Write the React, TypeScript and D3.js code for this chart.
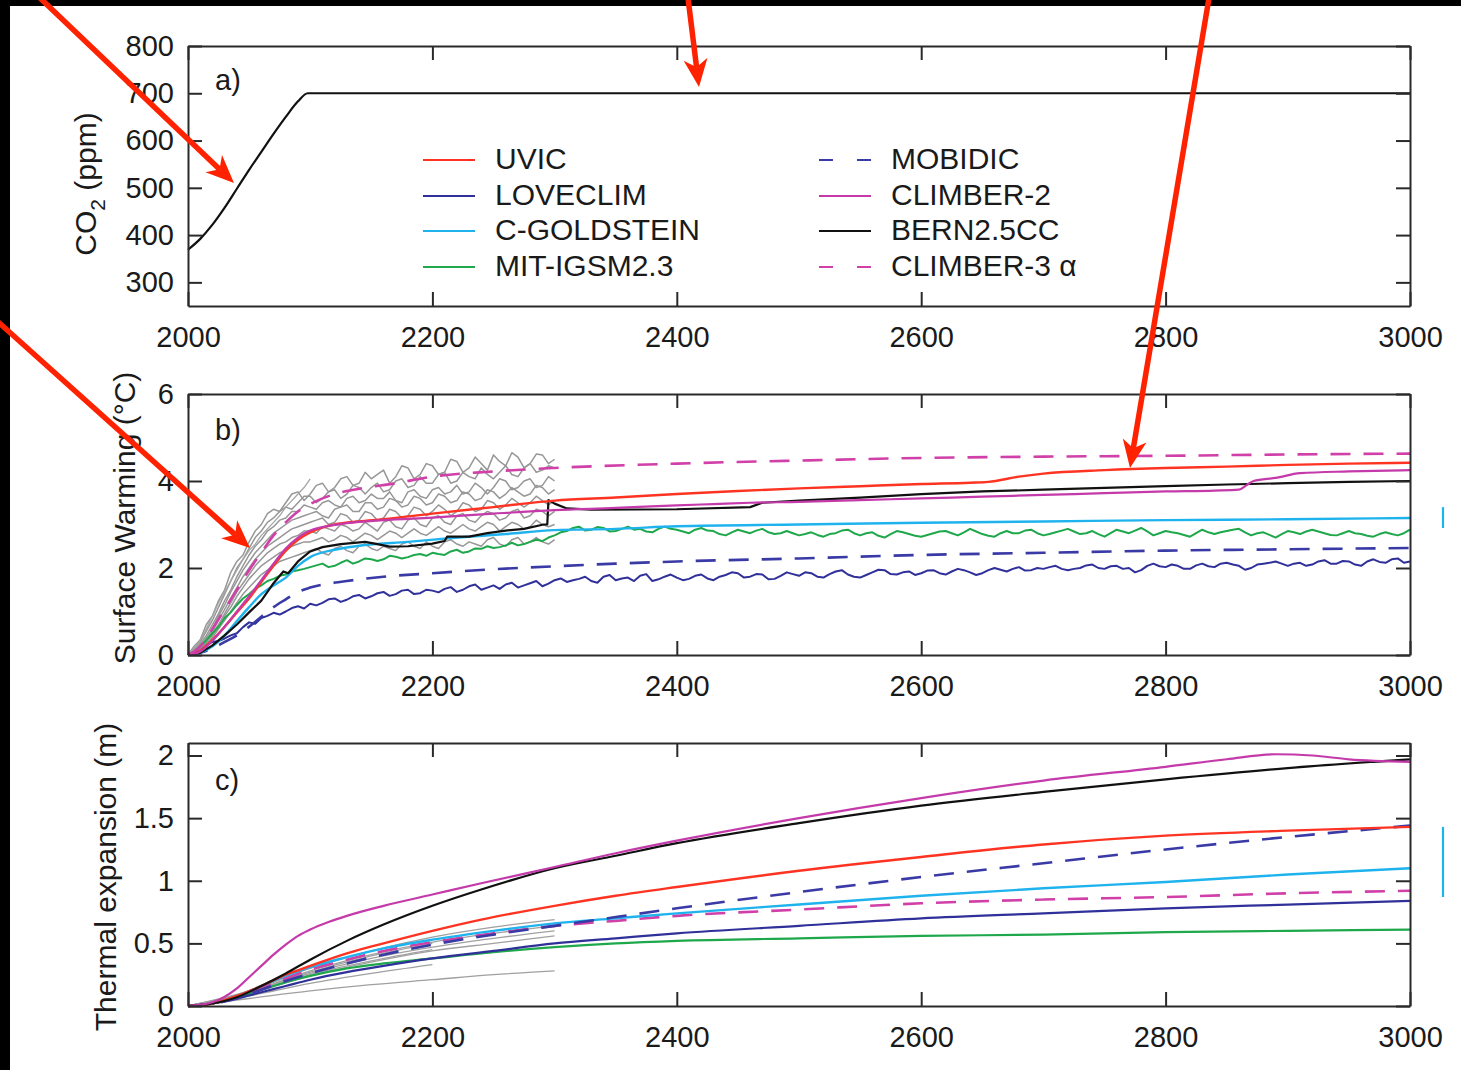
import React, { useEffect, useRef } from "react";
import * as d3 from "d3";

const FONT = "'Liberation Sans', Arial, Helvetica, sans-serif";

// ---------- panel a : CO2 (ppm)
const co2 = [[2000, 369], [2010, 392], [2020, 422], [2030, 458], [2040, 498], [2050, 538], [2060, 576], [2070, 614], [2080, 650], [2090, 683], [2098, 700], [3000, 700]];

// ---------- panel b : surface warming (degC)
const every5 = d3.range(2000, 3001, 5);
const every5to2300 = d3.range(2000, 2301, 5);
const every5to2100 = d3.range(2000, 2101, 5);

const uvicB = [[2000, 0], [2010, 0.1], [2020, 0.35], [2030, 0.65], [2040, 0.98], [2050, 1.3], [2060, 1.68], [2070, 2.05], [2080, 2.4], [2090, 2.65], [2100, 2.82], [2110, 2.93], [2120, 3.0], [2140, 3.07], [2160, 3.12], [2200, 3.25], [2250, 3.4], [2300, 3.55], [2350, 3.62], [2400, 3.7], [2450, 3.77], [2500, 3.83], [2550, 3.88], [2600, 3.93], [2640, 3.96], [2655, 3.98], [2680, 4.1], [2700, 4.17], [2750, 4.25], [2800, 4.3], [2850, 4.33], [2900, 4.37], [2950, 4.4], [3000, 4.42]];
const climber2B = [[2000, 0], [2010, 0.08], [2020, 0.33], [2030, 0.65], [2040, 1.0], [2050, 1.35], [2060, 1.72], [2070, 2.1], [2080, 2.45], [2090, 2.7], [2100, 2.86], [2110, 2.94], [2130, 3.03], [2160, 3.1], [2200, 3.16], [2250, 3.25], [2300, 3.33], [2350, 3.38], [2400, 3.44], [2430, 3.47], [2460, 3.5], [2500, 3.52], [2550, 3.56], [2600, 3.6], [2650, 3.64], [2700, 3.68], [2750, 3.72], [2800, 3.76], [2840, 3.78], [2860, 3.8], [2866, 3.9], [2872, 4.0], [2890, 4.07], [2910, 4.18], [2950, 4.22], [3000, 4.25]];
const bernB = [[2000, 0], [2010, 0.05], [2020, 0.22], [2030, 0.45], [2040, 0.7], [2050, 0.98], [2060, 1.25], [2070, 1.65], [2078, 1.92], [2082, 1.88], [2090, 2.15], [2100, 2.38], [2110, 2.48], [2125, 2.55], [2145, 2.6], [2155, 2.55], [2165, 2.49], [2180, 2.5], [2200, 2.56], [2210, 2.62], [2212, 2.72], [2230, 2.72], [2245, 2.8], [2260, 2.86], [2275, 2.9], [2291, 3.0], [2294, 3.0], [2295, 3.56], [2300, 3.48], [2310, 3.37], [2330, 3.34], [2400, 3.35], [2460, 3.4], [2470, 3.5], [2500, 3.55], [2550, 3.62], [2600, 3.7], [2650, 3.76], [2700, 3.8], [2750, 3.84], [2800, 3.88], [2850, 3.92], [2900, 3.95], [2950, 3.98], [3000, 4.0]];
const cgoldB = [[2000, 0], [2010, 0.05], [2020, 0.2], [2030, 0.45], [2040, 0.78], [2050, 1.1], [2060, 1.4], [2070, 1.6], [2080, 1.78], [2090, 2.05], [2100, 2.25], [2120, 2.42], [2145, 2.53], [2180, 2.6], [2216, 2.69], [2260, 2.78], [2300, 2.87], [2350, 2.9], [2400, 2.96], [2500, 3.0], [2600, 3.04], [2700, 3.07], [2800, 3.1], [2900, 3.12], [3000, 3.15]];
const mobidicB = [[2000, 0], [2010, 0.05], [2020, 0.15], [2030, 0.3], [2040, 0.45], [2050, 0.65], [2060, 0.88], [2070, 1.1], [2080, 1.28], [2090, 1.45], [2100, 1.55], [2130, 1.7], [2160, 1.8], [2200, 1.88], [2250, 1.97], [2300, 2.04], [2350, 2.1], [2400, 2.15], [2500, 2.22], [2600, 2.3], [2700, 2.35], [2800, 2.4], [2900, 2.43], [3000, 2.46]];
const climber3B = [[2000, 0], [2010, 0.2], [2020, 0.6], [2030, 1.05], [2040, 1.5], [2050, 1.95], [2060, 2.35], [2070, 2.75], [2080, 3.05], [2090, 3.3], [2100, 3.47], [2120, 3.7], [2140, 3.82], [2170, 3.95], [2200, 4.1], [2250, 4.22], [2300, 4.3], [2400, 4.4], [2500, 4.47], [2600, 4.53], [2700, 4.56], [2800, 4.58], [2900, 4.61], [3000, 4.63]];

// noisy runs, one value every 5 years
const loveclimB = [0, 0.04, 0.1, 0.22, 0.3, 0.32, 0.38, 0.45, 0.5, 0.64, 0.75, 0.72, 0.85, 0.9, 0.97, 0.93, 1.0, 1.08, 1.12, 1.07, 1.18,
  1.14, 1.2, 1.28, 1.3, 1.22, 1.27, 1.35, 1.38, 1.3, 1.35, 1.42, 1.45, 1.36, 1.4, 1.48, 1.5, 1.4, 1.42, 1.5, 1.48,
  1.44, 1.52, 1.56, 1.45, 1.5, 1.58, 1.62, 1.5, 1.55, 1.6, 1.52, 1.62, 1.66, 1.55, 1.6, 1.65, 1.7, 1.58, 1.64, 1.72,
  1.76, 1.68, 1.72, 1.75, 1.8, 1.7, 1.66, 1.8, 1.84, 1.72, 1.76, 1.78, 1.7, 1.82, 1.86, 1.7, 1.74, 1.8, 1.85, 1.78,
  1.72, 1.75, 1.82, 1.85, 1.76, 1.72, 1.8, 1.84, 1.9, 1.88, 1.78, 1.8, 1.86, 1.85, 1.74, 1.75, 1.82, 1.9, 1.86, 1.82,
  1.9, 1.88, 1.8, 1.78, 1.86, 1.92, 1.95, 1.85, 1.8, 1.78, 1.84, 1.9, 1.96, 1.95, 1.86, 1.85, 1.9, 1.92, 1.84, 1.88,
  1.94, 1.95, 1.88, 1.85, 1.92, 1.98, 1.95, 1.9, 1.84, 1.88, 1.95, 2.0, 1.96, 1.92, 1.98, 2.02, 1.94, 1.95, 2.0, 1.98,
  2.02, 2.05, 1.98, 1.95, 1.98, 2.0, 2.06, 2.08, 2.0, 1.98, 2.04, 2.05, 1.98, 2.0, 1.9, 1.95, 2.05, 2.1, 2.04, 2.02,
  2.08, 2.05, 1.98, 1.98, 2.06, 2.1, 2.04, 2.02, 2.1, 2.12, 2.08, 2.05, 1.96, 2.0, 2.08, 2.1, 2.12, 2.15, 2.1, 2.05,
  2.1, 2.12, 2.05, 2.08, 2.15, 2.18, 2.1, 2.1, 2.16, 2.15, 2.08, 2.05, 2.15, 2.2, 2.14, 2.12, 2.2, 2.22, 2.12, 2.15];
const mitB = [0, 0.08, 0.2, 0.34, 0.5, 0.65, 0.85, 0.98, 1.15, 1.3, 1.4, 1.52, 1.6, 1.7, 1.75, 1.82, 1.85, 1.92, 1.95, 1.98, 2.02,
  2.06, 2.1, 2.02, 2.05, 2.12, 2.18, 2.1, 2.15, 2.22, 2.2, 2.16, 2.2, 2.28, 2.26, 2.22, 2.25, 2.3, 2.32, 2.28, 2.35,
  2.32, 2.3, 2.38, 2.42, 2.35, 2.38, 2.45, 2.44, 2.5, 2.46, 2.48, 2.52, 2.58, 2.52, 2.55, 2.6, 2.65, 2.62, 2.7, 2.75,
  2.82, 2.85, 2.92, 2.95, 2.86, 2.88, 2.94, 2.92, 2.84, 2.85, 2.9, 2.95, 2.88, 2.9, 2.84, 2.82, 2.9, 2.95, 2.9, 2.88,
  2.84, 2.8, 2.88, 2.92, 2.86, 2.85, 2.78, 2.75, 2.82, 2.88, 2.84, 2.8, 2.86, 2.9, 2.82, 2.78, 2.8, 2.85, 2.8, 2.75,
  2.78, 2.82, 2.76, 2.72, 2.78, 2.8, 2.86, 2.88, 2.8, 2.75, 2.8, 2.82, 2.74, 2.7, 2.78, 2.85, 2.82, 2.78, 2.74, 2.72,
  2.76, 2.8, 2.84, 2.85, 2.8, 2.75, 2.82, 2.9, 2.84, 2.78, 2.74, 2.72, 2.8, 2.85, 2.8, 2.8, 2.86, 2.88, 2.8, 2.75,
  2.78, 2.82, 2.86, 2.9, 2.84, 2.78, 2.8, 2.85, 2.78, 2.72, 2.8, 2.88, 2.84, 2.8, 2.86, 2.92, 2.84, 2.75, 2.8, 2.85,
  2.82, 2.8, 2.76, 2.72, 2.8, 2.88, 2.82, 2.78, 2.82, 2.85, 2.88, 2.9, 2.82, 2.75, 2.8, 2.82, 2.76, 2.7, 2.78, 2.85,
  2.82, 2.78, 2.84, 2.88, 2.84, 2.8, 2.76, 2.75, 2.8, 2.85, 2.8, 2.78, 2.74, 2.72, 2.78, 2.82, 2.78, 2.75, 2.8, 2.88];

// grey ensemble (2000-2300), one value every 5 years
const greyB = [
  [0, 0.2, 0.35, 0.7, 0.9, 1.25, 1.5, 1.9, 2.15, 2.3, 2.6, 2.85, 3.0, 3.25, 3.35, 3.3, 3.5, 3.7, 3.75, 3.55, 3.7, 3.9, 3.95, 3.75, 3.85, 4.05, 4.1, 3.9, 3.95, 4.2, 4.05, 4.15, 4.25, 3.95, 4.1, 4.35, 4.3, 4.05, 4.15, 4.4, 4.35, 4.15, 4.2, 4.5, 4.45, 4.2, 4.3, 4.55, 4.4, 4.25, 4.6, 4.45, 4.35, 4.65, 4.55, 4.3, 4.4, 4.62, 4.6, 4.4, 4.5],
  [0, 0.15, 0.3, 0.55, 0.8, 1.1, 1.4, 1.7, 2.0, 2.2, 2.45, 2.7, 2.85, 3.05, 3.15, 3.3, 3.4, 3.35, 3.5, 3.65, 3.65, 3.5, 3.6, 3.75, 3.8, 3.6, 3.7, 3.9, 3.85, 3.7, 3.85, 3.95, 3.75, 3.8, 4.0, 4.05, 3.85, 3.9, 4.1, 3.95, 3.95, 4.15, 4.2, 3.95, 4.0, 4.2, 4.1, 4.05, 4.3, 4.15, 4.05, 4.2, 4.35, 4.15, 4.1, 4.3, 4.4, 4.2, 4.25, 4.35, 4.3],
  [0, 0.1, 0.25, 0.45, 0.7, 0.95, 1.25, 1.5, 1.8, 2.05, 2.3, 2.5, 2.65, 2.85, 2.95, 3.1, 3.15, 3.3, 3.3, 3.45, 3.4, 3.35, 3.5, 3.55, 3.45, 3.4, 3.6, 3.65, 3.5, 3.55, 3.7, 3.6, 3.6, 3.75, 3.55, 3.5, 3.75, 3.8, 3.65, 3.6, 3.8, 3.85, 3.7, 3.75, 3.9, 3.7, 3.75, 3.95, 3.85, 3.7, 3.85, 4.05, 4.0, 3.8, 3.85, 4.0, 4.05, 3.85, 3.9, 4.1, 4.0],
  [0, 0.1, 0.2, 0.4, 0.6, 0.9, 1.15, 1.45, 1.7, 1.95, 2.15, 2.35, 2.5, 2.65, 2.8, 2.9, 3.0, 3.1, 3.15, 3.2, 3.25, 3.3, 3.2, 3.15, 3.35, 3.4, 3.45, 3.3, 3.3, 3.5, 3.5, 3.35, 3.4, 3.6, 3.55, 3.4, 3.45, 3.65, 3.6, 3.45, 3.5, 3.7, 3.65, 3.5, 3.55, 3.75, 3.7, 3.55, 3.6, 3.8, 3.75, 3.6, 3.7, 3.85, 3.75, 3.65, 3.7, 3.9, 3.85, 3.7, 3.8],
  [0, 0.1, 0.2, 0.35, 0.55, 0.8, 1.05, 1.3, 1.55, 1.8, 2.0, 2.2, 2.35, 2.5, 2.6, 2.7, 2.8, 2.9, 2.95, 3.0, 3.05, 3.1, 3.15, 3.0, 3.05, 3.25, 3.2, 3.05, 3.1, 3.3, 3.25, 3.1, 3.15, 3.35, 3.3, 3.15, 3.2, 3.4, 3.35, 3.2, 3.3, 3.45, 3.35, 3.2, 3.3, 3.5, 3.45, 3.3, 3.35, 3.55, 3.5, 3.35, 3.45, 3.6, 3.5, 3.4, 3.5, 3.65, 3.55, 3.45, 3.55],
  [0, 0.05, 0.15, 0.3, 0.5, 0.7, 0.95, 1.2, 1.45, 1.65, 1.85, 2.05, 2.2, 2.35, 2.45, 2.55, 2.6, 2.7, 2.75, 2.85, 2.85, 2.8, 2.95, 2.9, 2.85, 3.0, 2.95, 2.85, 2.9, 3.05, 2.95, 2.85, 3.05, 3.1, 2.95, 2.9, 3.1, 3.15, 3.0, 2.95, 3.15, 3.2, 3.05, 3.0, 3.2, 3.25, 3.1, 3.05, 3.2, 3.3, 3.25, 3.1, 3.15, 3.3, 3.35, 3.15, 3.2, 3.35, 3.3, 3.2, 3.3],
  [0, 0.05, 0.15, 0.3, 0.45, 0.65, 0.9, 1.1, 1.35, 1.55, 1.75, 1.9, 2.05, 2.15, 2.25, 2.35, 2.4, 2.5, 2.55, 2.6, 2.6, 2.65, 2.7, 2.6, 2.65, 2.75, 2.7, 2.6, 2.7, 2.8, 2.75, 2.65, 2.75, 2.85, 2.8, 2.7, 2.8, 2.9, 2.8, 2.75, 2.85, 2.95, 2.85, 2.8, 2.9, 3.0, 2.9, 2.85, 2.95, 3.05, 3.0, 2.85, 2.95, 3.05, 3.0, 2.9, 2.95, 3.1, 3.0, 2.95, 3.0],
  [0, 0.05, 0.1, 0.25, 0.4, 0.6, 0.8, 1.0, 1.2, 1.4, 1.55, 1.7, 1.85, 1.95, 2.05, 2.15, 2.2, 2.25, 2.3, 2.35, 2.4, 2.45, 2.35, 2.3, 2.45, 2.5, 2.4, 2.35, 2.5, 2.55, 2.45, 2.4, 2.5, 2.45, 2.4, 2.55, 2.6, 2.5, 2.45, 2.6, 2.5, 2.45, 2.6, 2.65, 2.55, 2.5, 2.6, 2.55, 2.5, 2.65, 2.7, 2.55, 2.5, 2.65, 2.7, 2.55, 2.6, 2.7, 2.6, 2.55, 2.65],
];
const greyShortB = [0, 0.15, 0.35, 0.6, 0.9, 1.2, 1.45, 1.7, 1.95, 2.2, 2.4, 2.55, 2.75, 2.9, 3.05, 3.2, 3.4, 3.55, 3.7, 3.85, 4.05];

// ---------- panel c : thermal expansion (m)
const climber2C = [[2000, 0], [2020, 0.03], [2040, 0.14], [2050, 0.23], [2060, 0.32], [2070, 0.41], [2080, 0.49], [2090, 0.56], [2100, 0.61], [2115, 0.67], [2130, 0.72], [2160, 0.8], [2200, 0.89], [2240, 0.98], [2300, 1.11], [2350, 1.22], [2400, 1.32], [2500, 1.5], [2600, 1.66], [2700, 1.8], [2800, 1.91], [2850, 1.97], [2890, 2.01], [2920, 2.0], [2950, 1.97], [3000, 1.95]];
const bernC = [[2000, 0], [2020, 0.02], [2040, 0.07], [2060, 0.16], [2080, 0.26], [2100, 0.37], [2130, 0.52], [2160, 0.65], [2200, 0.8], [2240, 0.93], [2300, 1.1], [2350, 1.2], [2400, 1.3], [2500, 1.46], [2600, 1.6], [2700, 1.71], [2800, 1.81], [2900, 1.9], [3000, 1.97]];
const uvicC = [[2000, 0], [2020, 0.02], [2040, 0.08], [2060, 0.16], [2080, 0.25], [2100, 0.32], [2130, 0.42], [2160, 0.5], [2200, 0.6], [2240, 0.69], [2300, 0.8], [2350, 0.88], [2400, 0.95], [2500, 1.08], [2600, 1.19], [2700, 1.29], [2800, 1.36], [2900, 1.4], [3000, 1.43]];
const mobidicC = [[2000, 0], [2020, 0.02], [2040, 0.06], [2060, 0.13], [2080, 0.2], [2100, 0.26], [2130, 0.34], [2160, 0.41], [2200, 0.49], [2250, 0.57], [2300, 0.64], [2350, 0.71], [2400, 0.78], [2500, 0.91], [2600, 1.03], [2700, 1.14], [2800, 1.25], [2900, 1.35], [3000, 1.44]];
const cgoldC = [[2000, 0], [2020, 0.02], [2040, 0.08], [2060, 0.16], [2080, 0.24], [2100, 0.31], [2130, 0.39], [2160, 0.46], [2200, 0.53], [2250, 0.6], [2300, 0.66], [2350, 0.7], [2400, 0.74], [2500, 0.81], [2600, 0.88], [2700, 0.94], [2800, 0.99], [2900, 1.05], [3000, 1.1]];
const climber3C = [[2000, 0], [2020, 0.02], [2040, 0.07], [2060, 0.15], [2080, 0.22], [2100, 0.29], [2130, 0.37], [2160, 0.44], [2200, 0.51], [2250, 0.58], [2300, 0.64], [2350, 0.68], [2400, 0.72], [2500, 0.77], [2600, 0.82], [2700, 0.85], [2800, 0.87], [2900, 0.9], [3000, 0.92]];
const loveclimC = [[2000, 0], [2020, 0.02], [2040, 0.06], [2060, 0.11], [2080, 0.16], [2100, 0.21], [2130, 0.27], [2160, 0.32], [2200, 0.38], [2250, 0.44], [2300, 0.5], [2350, 0.54], [2400, 0.58], [2500, 0.64], [2600, 0.7], [2700, 0.74], [2800, 0.78], [2900, 0.81], [3000, 0.84]];
const mitC = [[2000, 0], [2020, 0.02], [2040, 0.07], [2060, 0.13], [2080, 0.19], [2100, 0.24], [2130, 0.3], [2160, 0.34], [2200, 0.38], [2250, 0.43], [2300, 0.47], [2350, 0.5], [2400, 0.52], [2500, 0.54], [2600, 0.56], [2700, 0.57], [2800, 0.59], [2900, 0.6], [3000, 0.61]];
const greyYearsC = [2000, 2050, 2100, 2150, 2200, 2250, 2300];
const greyC = [
  [0, 0.12, 0.3, 0.44, 0.55, 0.63, 0.69],
  [0, 0.11, 0.28, 0.41, 0.51, 0.58, 0.64],
  [0, 0.1, 0.26, 0.38, 0.47, 0.54, 0.6],
  [0, 0.1, 0.24, 0.35, 0.44, 0.5, 0.56],
  [0, 0.06, 0.12, 0.17, 0.21, 0.25, 0.28],
  [0, 0.1, 0.25, 0.36, 0.45],
  [0, 0.08, 0.18, 0.26, 0.33],
  [0, 0.11, 0.27, 0.4, 0.5],
];

// ranges marked at the right of panels b and c
const spreadB = [2.92, 3.4];
const spreadC = [0.87, 1.43];

const models = [
  { name: "UVIC", color: "#ff3322", dash: null },
  { name: "LOVECLIM", color: "#30309a", dash: null },
  { name: "C-GOLDSTEIN", color: "#1fb3ee", dash: null },
  { name: "MIT-IGSM2.3", color: "#1ea84b", dash: null },
  { name: "MOBIDIC", color: "#3a3aa6", dash: "20,13" },
  { name: "CLIMBER-2", color: "#c43aaa", dash: null },
  { name: "BERN2.5CC", color: "#111111", dash: null },
  { name: "CLIMBER-3 \u03b1", color: "#d040a8", dash: "20,13" },
];

// red annotation arrows drawn over the figure (page pixels)
const arrows = [
  { from: [40, -2], to: [234, 183] },
  { from: [688, -2], to: [699, 87] },
  { from: [1209, -2], to: [1130, 468] },
  { from: [-4, 320], to: [250, 548] },
];

export default function App() {
  const ref = useRef<SVGSVGElement>(null);

  useEffect(() => {
    const W = 1461, H = 1070;
    const left = 188, right = 1410;
    const svg = d3.select(ref.current);
    svg.selectAll("*").remove();
    svg.append("rect").attr("width", W).attr("height", H).attr("fill", "#fff");

    const x = d3.scaleLinear().domain([2000, 3000]).range([left, right]);
    const yA = d3.scaleLinear().domain([250, 800]).range([306, 46]);
    const yB = d3.scaleLinear().domain([0, 6]).range([655, 394]);
    const yC = d3.scaleLinear().domain([0, 2.1]).range([1006, 743]);
    const xTicks = d3.range(2000, 3001, 200);

    const styleAxis = (sel: any) => {
      sel.attr("font-family", null).attr("font-size", null);
      sel.select(".domain").attr("stroke", "#2a2a2a").attr("stroke-width", 2);
      sel.selectAll(".tick line").attr("stroke", "#2a2a2a").attr("stroke-width", 2);
      sel.selectAll("text").attr("font-family", FONT).attr("font-size", 29).attr("fill", "#1a1a1a");
    };

    function frame(y: any, ticks: number[], top: number, bottom: number) {
      const g = svg.append("g");
      g.append("g").attr("transform", `translate(0,${bottom})`)
        .call(d3.axisBottom(x).tickValues(xTicks).tickSize(-14).tickSizeOuter(0).tickPadding(20).tickFormat(d3.format("d")) as any)
        .call(styleAxis);
      g.append("g").attr("transform", `translate(0,${top})`)
        .call(d3.axisTop(x).tickValues(xTicks).tickSize(-14).tickSizeOuter(0).tickFormat(() => "") as any)
        .call(styleAxis);
      g.append("g").attr("transform", `translate(${left},0)`)
        .call(d3.axisLeft(y).tickValues(ticks).tickSize(-14).tickSizeOuter(0).tickPadding(14).tickFormat((d: any) => String(d)) as any)
        .call(styleAxis);
      g.append("g").attr("transform", `translate(${right},0)`)
        .call(d3.axisRight(y).tickValues(ticks).tickSize(-14).tickSizeOuter(0).tickFormat(() => "") as any)
        .call(styleAxis);
    }

    function draw(y: any, pts: number[][], color: string, width: number, dash: string | null, smooth: boolean) {
      const line = d3.line<number[]>().x(d => x(d[0])).y(d => y(d[1]))
        .curve(smooth ? d3.curveMonotoneX : d3.curveLinear);
      svg.append("path").attr("d", line(pts)).attr("fill", "none")
        .attr("stroke", color).attr("stroke-width", width)
        .attr("stroke-dasharray", dash).attr("stroke-linejoin", "round");
    }
    const zip = (yrs: number[], vals: number[]) => vals.map((v, i) => [yrs[i], v]);
    const col = (name: string) => models.find(m => m.name === name)!;

    // panel a
    draw(yA, co2, "#111", 2.2, null, true);

    // panel b
    greyB.forEach(v => draw(yB, zip(every5to2300, v), "#979797", 1.5, null, false));
    draw(yB, zip(every5to2100, greyShortB), "#a5a5a5", 1.3, null, false);
    draw(yB, zip(every5, loveclimB), col("LOVECLIM").color, 2.0, null, false);
    draw(yB, mobidicB, col("MOBIDIC").color, 2.6, col("MOBIDIC").dash, true);
    draw(yB, zip(every5, mitB), col("MIT-IGSM2.3").color, 2.0, null, false);
    draw(yB, cgoldB, col("C-GOLDSTEIN").color, 2.4, null, true);
    draw(yB, bernB, col("BERN2.5CC").color, 2.2, null, false);
    draw(yB, uvicB, col("UVIC").color, 2.4, null, true);
    draw(yB, climber2B, col("CLIMBER-2").color, 2.2, null, true);
    draw(yB, climber3B, col("CLIMBER-3 \u03b1").color, 2.6, col("CLIMBER-3 \u03b1").dash, true);

    // panel c
    greyC.forEach(v => draw(yC, zip(greyYearsC, v), "#a0a0a0", 1.3, null, true));
    draw(yC, mitC, col("MIT-IGSM2.3").color, 2.2, null, true);
    draw(yC, loveclimC, col("LOVECLIM").color, 2.2, null, true);
    draw(yC, climber3C, col("CLIMBER-3 \u03b1").color, 2.6, col("CLIMBER-3 \u03b1").dash, true);
    draw(yC, cgoldC, col("C-GOLDSTEIN").color, 2.4, null, true);
    draw(yC, mobidicC, col("MOBIDIC").color, 2.6, col("MOBIDIC").dash, true);
    draw(yC, uvicC, col("UVIC").color, 2.4, null, true);
    draw(yC, bernC, col("BERN2.5CC").color, 2.2, null, true);
    draw(yC, climber2C, col("CLIMBER-2").color, 2.2, null, true);

    frame(yA, [300, 400, 500, 600, 700, 800], 46, 306);
    frame(yB, [0, 2, 4, 6], 394, 655);
    frame(yC, [0, 0.5, 1, 1.5, 2], 743, 1006);

    // spread markers on the right
    [[yB, spreadB], [yC, spreadC]].forEach(([y, r]: any) => {
      svg.append("line").attr("x1", right + 33).attr("x2", right + 33)
        .attr("y1", y(r[0])).attr("y2", y(r[1]))
        .attr("stroke", col("C-GOLDSTEIN").color).attr("stroke-width", 2.2);
    });

    // panel letters
    [["a)", 90], ["b)", 440], ["c)", 790]].forEach(([t, yy]) => {
      svg.append("text").attr("x", 215).attr("y", yy).text(t as string)
        .attr("font-family", FONT).attr("font-size", 29).attr("fill", "#1a1a1a");
    });

    // axis titles
    const tA = svg.append("text").attr("transform", "translate(96,184) rotate(-90)")
      .attr("text-anchor", "middle").attr("font-family", FONT).attr("font-size", 30).attr("fill", "#1a1a1a");
    tA.append("tspan").text("CO");
    tA.append("tspan").attr("dy", 9).attr("font-size", 21).text("2");
    tA.append("tspan").attr("dy", -9).text(" (ppm)");
    svg.append("text").attr("transform", "translate(135,518) rotate(-90)").attr("text-anchor", "middle")
      .attr("font-family", FONT).attr("font-size", 30).attr("fill", "#1a1a1a").text("Surface Warming (\u00b0C)");
    svg.append("text").attr("transform", "translate(116,877) rotate(-90)").attr("text-anchor", "middle")
      .attr("font-family", FONT).attr("font-size", 30).attr("fill", "#1a1a1a").text("Thermal expansion (m)");

    // legend
    const rows = [160, 196, 231, 267];
    const cols = [{ x: 423, tx: 495 }, { x: 819, tx: 891 }];
    models.forEach((m, i) => {
      const c = cols[Math.floor(i / 4)], yy = rows[i % 4];
      svg.append("line").attr("x1", c.x).attr("x2", c.x + 52).attr("y1", yy).attr("y2", yy)
        .attr("stroke", m.color).attr("stroke-width", 2.2).attr("stroke-dasharray", m.dash ? "14,24" : null);
      svg.append("text").attr("x", c.tx).attr("y", yy + 9).text(m.name)
        .attr("font-family", FONT).attr("font-size", 30).attr("fill", "#1a1a1a");
    });

    // black bands of the scan
    svg.append("rect").attr("width", W).attr("height", 6).attr("fill", "#000");
    svg.append("rect").attr("width", 10).attr("height", H).attr("fill", "#000");

    // red arrows
    arrows.forEach(a => {
      const [x0, y0] = a.from, [x1, y1] = a.to;
      const ang = Math.atan2(y1 - y0, x1 - x0);
      const ux = Math.cos(ang), uy = Math.sin(ang), px = -uy, py = ux;
      const L = 28, hw = 12, notch = 20;
      svg.append("line").attr("x1", x0).attr("y1", y0)
        .attr("x2", x1 - ux * notch).attr("y2", y1 - uy * notch)
        .attr("stroke", "#ff2200").attr("stroke-width", 5.5);
      const head = [
        [x1, y1],
        [x1 - ux * L + px * hw, y1 - uy * L + py * hw],
        [x1 - ux * notch, y1 - uy * notch],
        [x1 - ux * L - px * hw, y1 - uy * L - py * hw],
      ];
      svg.append("polygon").attr("points", head.map(p => p.join(",")).join(" ")).attr("fill", "#ff2200");
    });
  }, []);

  return (
    <svg ref={ref} width={1461} height={1070}
      style={{ position: "absolute", left: 0, top: 0, display: "block" }} />
  );
}
